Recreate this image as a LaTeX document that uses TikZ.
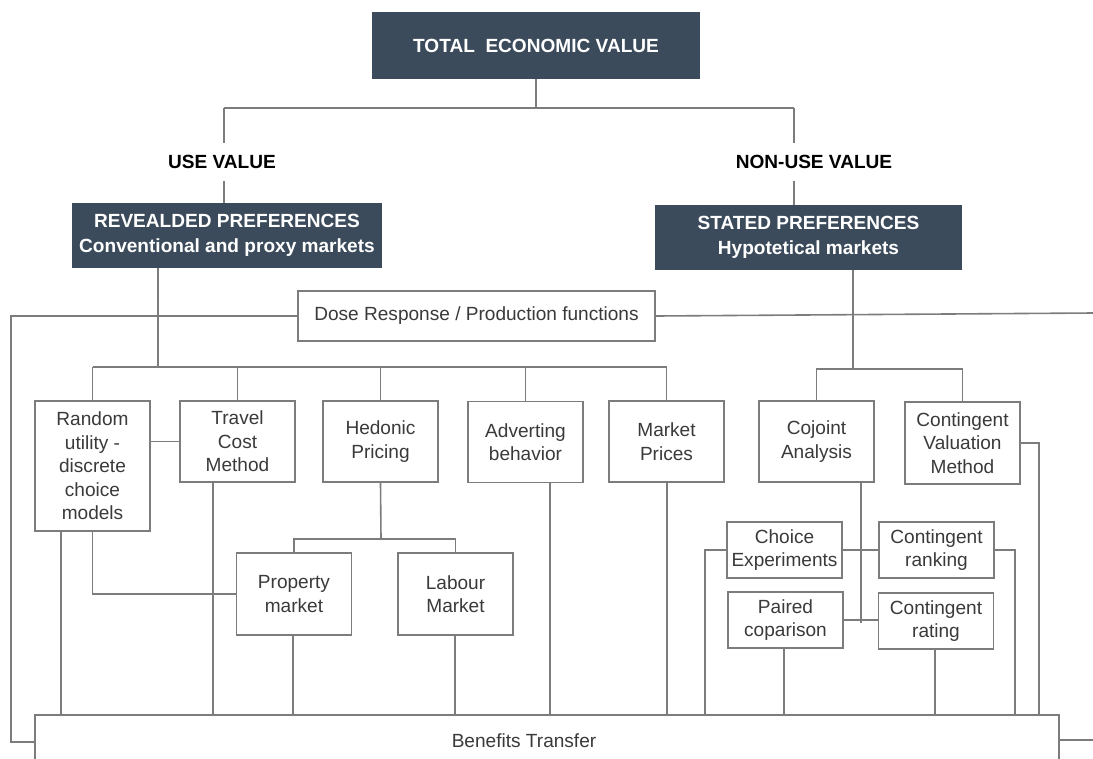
\documentclass[tikz,border=0pt]{standalone}
\usepackage{fontspec}
\setmainfont{Liberation Sans}
\definecolor{slate}{HTML}{3B4B5B}
\definecolor{linegray}{HTML}{7C7C7C}
\definecolor{textgray}{HTML}{3A3A3A}
\begin{document}
\begin{tikzpicture}[x=0.75pt,y=-0.75pt,
    box/.style={draw=linegray,line width=1.2pt,fill=white,align=center,inner sep=0pt,text=textgray,
      font=\fontsize{14.3}{17.6}\selectfont,minimum width=86.25pt,minimum height=60.75pt},
    head/.style={fill=slate,align=center,inner sep=0pt,text=white,font=\fontsize{14.3}{18.8}\selectfont\bfseries},
    tag/.style={inner xsep=2pt,inner ysep=9pt,font=\fontsize{14.3}{17}\selectfont\bfseries},
    wire/.style={draw=linegray,line width=1.2pt}]
  \useasboundingbox (0,0) rectangle (1093,758);
  % top of the tree
  \node[head,minimum width=246pt,minimum height=50.25pt] (tev) at (536,45.5) {TOTAL\ \ ECONOMIC VALUE};
  \node[tag] (use) at (222,162) {USE VALUE};
  \node[tag] (nonuse) at (814,162) {NON-USE VALUE};
  \node[head,minimum width=232.5pt,minimum height=48.75pt] (rp) at (227,235.5) {REVEALDED PREFERENCES\\Conventional and proxy markets};
  \node[head,minimum width=230.25pt,minimum height=48.75pt] (sp) at (808.5,237.5) {STATED PREFERENCES\\Hypotetical markets};
  \node[box,minimum width=267.75pt,minimum height=37.5pt] (dose) at (476.5,316) {Dose Response / Production functions};
  % methods
  \node[box,minimum height=97.5pt] (rum) at (92.5,466) {Random\\utility -\\discrete\\choice\\models};
  \node[box] (tcm) at (237.5,441.5) {Travel\\Cost\\Method};
  \node[box] (hp) at (380.5,441.5) {Hedonic\\Pricing};
  \node[box] (ab) at (525.5,442) {Adverting\\behavior};
  \node[box] (mp) at (666.5,441.5) {Market\\Prices};
  \node[box] (ca) at (816.5,441.5) {Cojoint\\Analysis};
  \node[box,minimum height=61.5pt] (cvm) at (962.5,443) {Contingent\\Valuation\\Method};
  \node[box,minimum height=61.5pt] (pm) at (294,594) {Property\\market};
  \node[box,minimum height=61.5pt] (lm) at (455.5,594) {Labour\\Market};
  \node[box,minimum height=42pt] (ce) at (784.5,550) {Choice\\Experiments};
  \node[box,minimum height=42pt] (cr) at (936.5,550) {Contingent\\ranking};
  \node[box,minimum height=42pt] (pc) at (785.5,620) {Paired\\coparison};
  \node[box,minimum height=42pt] (crat) at (936,621) {Contingent\\rating};
  \node[box,minimum width=768pt,minimum height=75pt] (bt) at (547,765) {};
  \node[text=textgray,font=\fontsize{14.3}{17.6}\selectfont] (btlabel) at (524,741) {Benefits Transfer};
  % joints
  \coordinate (uj) at (224,108);
  \coordinate (nj) at (794,108);
  \coordinate (rj) at (158,367);
  \coordinate (sj) at (853,369);
  \coordinate (hj) at (381,539);
  \coordinate (cj) at (861,623);
  \coordinate (lw) at (11,742);
  \coordinate (de) at (1093,313);
  \coordinate (be) at (1093,740);
  \coordinate (cel) at (705,0);
  \coordinate (crr) at (1015,0);
  \coordinate (cvr) at (1039,0);
  % connectors
  \draw[wire] (tev.south) -- (tev.south |- uj);
  \draw[wire] (uj) -- (nj);
  \draw[wire] (uj) -- (uj |- use.north);
  \draw[wire] (uj |- use.south) -- (uj |- rp.north);
  \draw[wire] (nj) -- (nj |- nonuse.north);
  \draw[wire] (nj |- nonuse.south) -- (nj |- sp.north);
  \draw[wire] (rj |- rp.south) -- (rj);
  \draw[wire] (rum.north |- rj) -- (mp.north |- rj);
  \foreach \n in {rum,tcm,hp,ab,mp}
    \draw[wire] (\n.north |- rj) -- (\n.north);
  \draw[wire] (dose.west) -| (lw) -- (bt.west |- lw);
  \draw[wire] (dose.east) -- (de);
  \draw[wire] (bt.east |- be) -- (be);
  \draw[wire] (rum.east |- tcm.west) -- (tcm.west);
  \draw[wire] (rum.south) |- (pm.west);
  \draw[wire] (hp.south) -- (hj);
  \draw[wire] (pm.north) |- (hj) -| (lm.north);
  \draw[wire] (sj |- sp.south) -- (sj);
  \draw[wire] (ca.north) |- (sj) -| (cvm.north);
  \draw[wire] (cj |- ca.south) -- (cj);
  \draw[wire] (ce.east) -- (cr.west);
  \draw[wire] (pc.east) -- (pc.east -| crat.west);
  \draw[wire] (ce.west) -| (cel |- bt.north);
  \draw[wire] (cr.east) -| (crr |- bt.north);
  \draw[wire] (cvm.east) -| (cvr |- bt.north);
  \foreach \x/\n in {61/rum,213/tcm,293/pm,455/lm,550/ab,667/mp,784/pc,935/crat}{
    \coordinate (drop) at (\x,0);
    \draw[wire] (drop |- \n.south) -- (drop |- bt.north);
  }
\end{tikzpicture}
\end{document}
